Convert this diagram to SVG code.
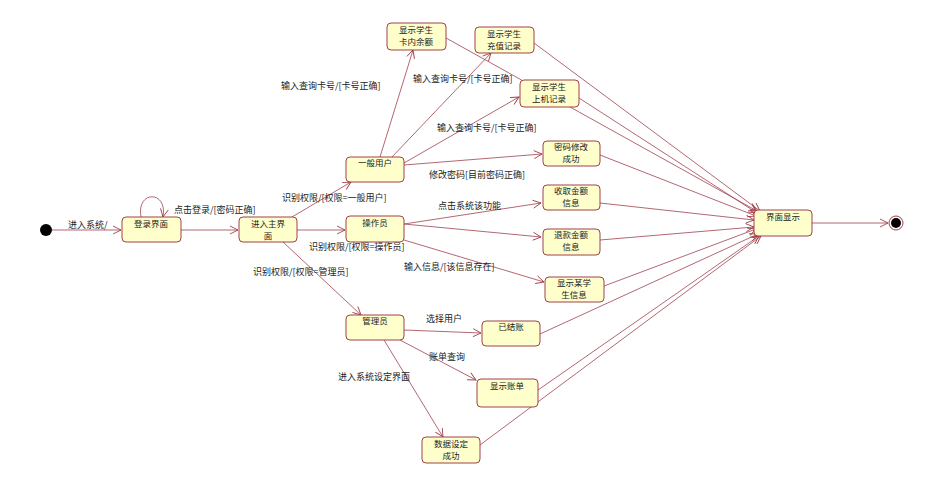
<svg xmlns="http://www.w3.org/2000/svg" width="941" height="500" viewBox="0 0 941 500">
<style>
.n rect{fill:#ffffcc;stroke:#a0404c;stroke-width:1}
text{font-family:"Noto Sans CJK SC","Liberation Sans",sans-serif;font-size:9px;fill:#222}
.n text{text-anchor:middle;font-size:8.5px}
.c path{fill:none;stroke:#a0404c;stroke-width:0.8;marker-end:url(#a)}
</style>
<defs><marker id="a" markerWidth="10" markerHeight="10" refX="9" refY="5" orient="auto" markerUnits="userSpaceOnUse"><path d="M1,1 L9,5 L1,9" fill="none" stroke="#a0404c" stroke-width="0.9"/></marker></defs>
<rect width="941" height="500" fill="#fff"/>
<g class="c">
<path d="M52,230 H121"/>
<path d="M141,217 C136,190 168,190 163,217"/>
<path d="M181,230 H238"/>
<path d="M292,217 L351,182"/>
<path d="M297,230 H345"/>
<path d="M283,242 L361,315"/>
<path d="M380,157 L413,50"/>
<path d="M392,157 L491,53"/>
<path d="M404,163 L519,97"/>
<path d="M404,165 L542,154"/>
<path d="M404,224 L541,203"/>
<path d="M404,224 L541,237"/>
<path d="M404,240 L544,282"/>
<path d="M404,330 L481,333"/>
<path d="M400,340 L476,380"/>
<path d="M384,340 L443,437"/>
<path d="M446,38 L757,211"/>
<path d="M534,43 L760,211"/>
<path d="M579,98 L757,213"/>
<path d="M600,155 L756,216"/>
<path d="M600,203 L754,220"/>
<path d="M600,240 L754,227"/>
<path d="M604,286 L756,229"/>
<path d="M540,334 L758,234"/>
<path d="M538,390 L759,236"/>
<path d="M480,445 L761,236"/>
<path d="M812,223 H888"/>
</g>
<g font-size="9">
<text x="68" y="228">进入系统/</text>
<text x="174" y="213">点击登录/[密码正确]</text>
<text x="282" y="201">识别权限/[权限=一般用户]</text>
<text x="309" y="250">识别权限/[权限=操作员]</text>
<text x="253" y="275">识别权限/[权限=管理员]</text>
<text x="281" y="89">输入查询卡号/[卡号正确]</text>
<text x="413" y="82">输入查询卡号/[卡号正确]</text>
<text x="437" y="131">输入查询卡号/[卡号正确]</text>
<text x="429" y="178">修改密码[目前密码正确]</text>
<text x="438" y="209">点击系统该功能</text>
<text x="404" y="270">输入信息/[该信息存在]</text>
<text x="426" y="322">选择用户</text>
<text x="429" y="360">账单查询</text>
<text x="338" y="380">进入系统设定界面</text>
</g>
<circle cx="46" cy="230" r="6" fill="#000"/>
<g id="login" class="n"><rect x="122" y="217" width="59" height="25" rx="4"/><text x="151" y="227">登录界面</text></g>
<g id="main" class="n"><rect x="239" y="217" width="58" height="25" rx="4"/><text x="268" y="227">进入主界</text><text x="268" y="239">面</text></g>
<g id="user" class="n"><rect x="346" y="157" width="58" height="25" rx="4"/><text x="375" y="166">一般用户</text></g>
<g id="oper" class="n"><rect x="346" y="216" width="58" height="26" rx="4"/><text x="375" y="226">操作员</text></g>
<g id="admin" class="n"><rect x="346" y="315" width="58" height="25" rx="4"/><text x="375" y="324">管理员</text></g>
<g id="bal" class="n"><rect x="387" y="23" width="59" height="27" rx="4"/><text x="416" y="33">显示学生</text><text x="416" y="45">卡内余额</text></g>
<g id="rech" class="n"><rect x="475" y="27" width="59" height="26" rx="4"/><text x="504" y="37">显示学生</text><text x="504" y="49">充值记录</text></g>
<g id="onl" class="n"><rect x="520" y="80" width="59" height="27" rx="4"/><text x="549" y="90">显示学生</text><text x="549" y="102">上机记录</text></g>
<g id="pwd" class="n"><rect x="543" y="141" width="57" height="25" rx="4"/><text x="571" y="150">密码修改</text><text x="571" y="162">成功</text></g>
<g id="col" class="n"><rect x="543" y="185" width="57" height="25" rx="4"/><text x="571" y="194">收取金额</text><text x="571" y="206">信息</text></g>
<g id="ref" class="n"><rect x="543" y="229" width="57" height="26" rx="4"/><text x="571" y="238">退款金额</text><text x="571" y="250">信息</text></g>
<g id="stu" class="n"><rect x="545" y="277" width="59" height="25" rx="4"/><text x="574" y="286">显示某学</text><text x="574" y="298">生信息</text></g>
<g id="chk" class="n"><rect x="482" y="321" width="58" height="25" rx="4"/><text x="511" y="330">已结账</text></g>
<g id="bill" class="n"><rect x="477" y="379" width="61" height="28" rx="4"/><text x="507" y="389">显示账单</text></g>
<g id="data" class="n"><rect x="422" y="437" width="58" height="26" rx="4"/><text x="451" y="447">数据设定</text><text x="451" y="459">成功</text></g>
<g id="disp" class="n"><rect x="754" y="210" width="58" height="26" rx="4"/><text x="783" y="220">界面显示</text></g>
<g id="final"><circle cx="896" cy="223" r="7" fill="#fff" stroke="#a0404c"/><circle cx="896" cy="223" r="5" fill="#000"/></g>
</svg>
